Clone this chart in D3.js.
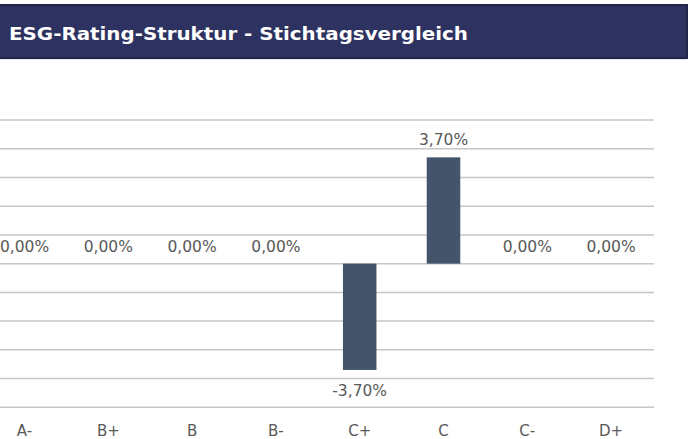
<!DOCTYPE html>
<html>
<head>
<meta charset="utf-8">
<script src="https://cdn.jsdelivr.net/npm/d3@7"></script>
<style>
  html, body { margin: 0; padding: 0; background: #fff; }
  svg { display: block; }
</style>
</head>
<body>
<div id="chart-container"></div>
<script>
const width = 688;
const height = 439;

// data
const categories = ["A-", "B+", "B", "B-", "C+", "C", "C-", "D+"];
const values = [0, 0, 0, 0, -0.037, 0.037, 0, 0];
const yTicks = [-0.05, -0.04, -0.03, -0.02, -0.01, 0, 0.01, 0.02, 0.03, 0.04, 0.05];
const title = "ESG-Rating-Struktur - Stichtagsvergleich";

const plot = { left: -17.4, right: 653, top: 120, bottom: 407.3 };

const de = d3.formatLocale({ decimal: ",", thousands: ".", grouping: [3], currency: ["", " €"], minus: "-" });
const pct = de.format(".2%");

const svg = d3.select("#chart-container").append("svg")
  .attr("width", width)
  .attr("height", height);

// header bar
const head = svg.append("g");
head.append("rect")
  .attr("x", -2).attr("y", 58).attr("width", 689).attr("height", 1.5)
  .attr("fill", "#c9cad3");
head.append("rect")
  .attr("x", -2).attr("y", 5).attr("width", 689).attr("height", 53)
  .attr("fill", "#2e3260")
  .attr("stroke", "#22254a")
  .attr("stroke-width", 2);
head.append("text")
  .attr("x", 9)
  .attr("y", 39.5)
  .attr("fill", "#fff")
  .attr("textLength", 459)
  .attr("lengthAdjust", "spacingAndGlyphs")
  .style("font-family", "'DejaVu Sans', sans-serif")
  .style("font-weight", 700)
  .style("font-size", "18px")
  .text(title);

// scales
const x = d3.scaleBand()
  .domain(categories)
  .range([plot.left, plot.right])
  .paddingInner(0.6)
  .paddingOuter(0.3);

const y = d3.scaleLinear()
  .domain([-0.05, 0.05])
  .range([plot.bottom, plot.top]);

// gridlines
svg.append("g")
  .selectAll("line")
  .data(yTicks)
  .join("line")
  .attr("x1", plot.left)
  .attr("x2", plot.right + 1)
  .attr("y1", d => y(d))
  .attr("y2", d => y(d))
  .attr("stroke", "#c6c6c6")
  .attr("stroke-width", 1.5);

// bars
svg.append("g")
  .selectAll("rect")
  .data(values)
  .join("rect")
  .attr("x", (d, i) => x(categories[i]))
  .attr("width", x.bandwidth())
  .attr("y", d => y(Math.max(0, d)))
  .attr("height", d => Math.abs(y(d) - y(0)))
  .attr("fill", "#44546a");

// value labels
svg.append("g")
  .style("font-family", "'DejaVu Sans', sans-serif")
  .style("font-size", "15.5px")
  .selectAll("text")
  .data(values)
  .join("text")
  .attr("x", (d, i) => x(categories[i]) + x.bandwidth() / 2)
  .attr("y", d => d < 0 ? y(d) + 26.5 : y(d) - 12)
  .attr("text-anchor", "middle")
  .attr("fill", "#595959")
  .text(d => pct(d));

// x axis
const xAxis = g => g
  .attr("transform", `translate(0,${plot.bottom})`)
  .call(d3.axisBottom(x).tickSize(0).tickPadding(18))
  .call(g => g.select(".domain").remove())
  .call(g => g.selectAll("text")
    .attr("fill", "#595959")
    .style("font-family", "'DejaVu Sans', sans-serif")
    .style("font-size", "15px"));

svg.append("g").call(xAxis);
</script>
</body>
</html>
